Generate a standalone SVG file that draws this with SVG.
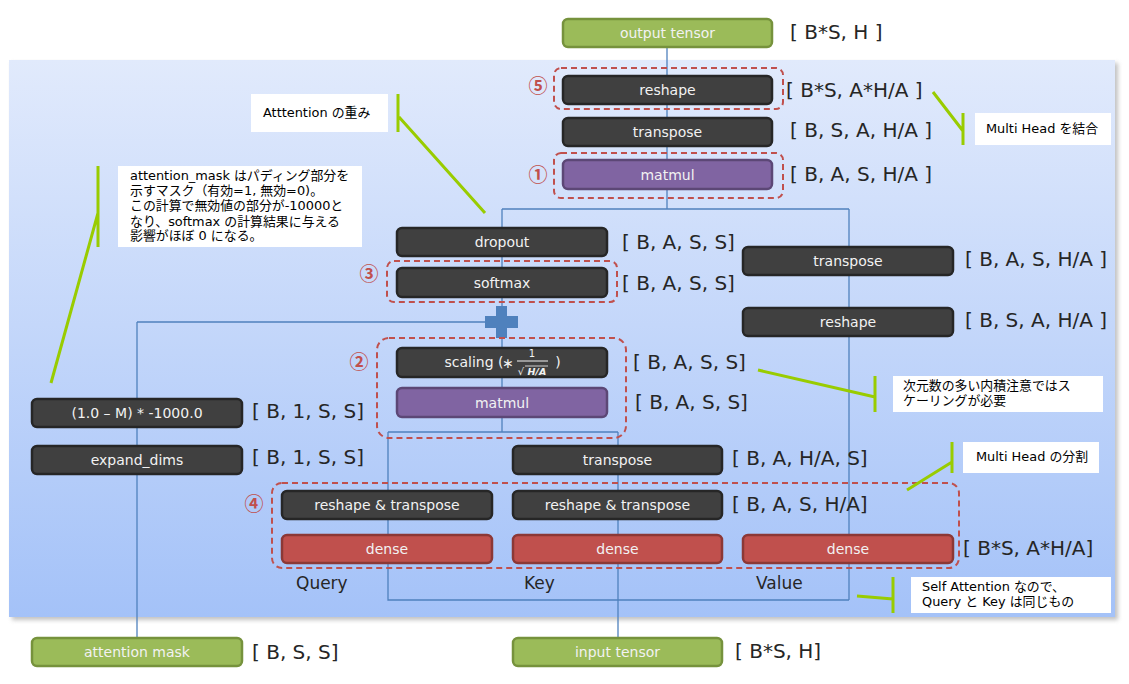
<svg xmlns="http://www.w3.org/2000/svg" width="1129" height="684" viewBox="0 0 1129 684">
<defs>
<linearGradient id="panelGrad" x1="0" y1="0" x2="0" y2="1">
<stop offset="0" stop-color="#e1eafc"/>
<stop offset="1" stop-color="#a4c2f8"/>
</linearGradient>
<filter id="blur" x="-5%" y="-5%" width="110%" height="110%"><feGaussianBlur stdDeviation="2"/></filter>
</defs>
<style>
.nd rect{stroke-width:2.5}
.dark rect{fill:#404040;stroke:#262626}
.purple rect{fill:#8064a2;stroke:#5c4776}
.red rect{fill:#c0504d;stroke:#8c3836}
.green rect{fill:#9bbb59;stroke:#76923c}
.nd text{font-family:"DejaVu Sans","Noto Sans",sans-serif;font-size:14px;fill:#f2f2f2;text-anchor:middle}
.dim{font-family:"DejaVu Sans","Noto Sans",sans-serif;font-size:20px;fill:#262626}
.qkv{font-family:"DejaVu Sans","Noto Sans",sans-serif;font-size:17px;fill:#262626}
.dash{fill:none;stroke:#c0504d;stroke-width:2;stroke-dasharray:6 4}
.num{font-family:"Noto Sans CJK JP","DejaVu Sans",sans-serif;font-size:19px;font-weight:bold;fill:#c0504d;text-anchor:middle}
.conn{fill:none;stroke:#4f81bd;stroke-width:1.3}
.gl{fill:none;stroke:#99cc00;stroke-width:3}
.cb{fill:#ffffff}
.ct{font-family:"DejaVu Sans","Noto Sans CJK JP",sans-serif;font-size:12.9px;fill:#000000}
</style>

<g id="panel">
<rect x="12" y="63" width="1106" height="557" fill="#9a9a9a" opacity="0.6" filter="url(#blur)"/>
<rect x="9" y="60" width="1106" height="557" fill="url(#panelGrad)"/>
</g>

<g id="connectors">
<path class="conn" d="M667 47 V209"/>
<path class="conn" d="M502 209 H849"/>
<path class="conn" d="M502 209 V432"/>
<path class="conn" d="M849 209 V600"/>
<path class="conn" d="M388 432 H618"/>
<path class="conn" d="M388 432 V600 H849"/>
<path class="conn" d="M618 432 V638"/>
<path class="conn" d="M137 322 H497"/>
<path class="conn" d="M137 322 V638"/>
<path id="plus" d="M496 306 H507 V316 H518 V328 H507 V338 H496 V328 H485 V316 H496 Z" fill="#4f81bd"/>
</g>

<g id="groups">
<rect class="dash" x="554" y="68" width="229" height="41" rx="7"/>
<rect class="dash" x="554" y="153" width="229" height="45" rx="7"/>
<rect class="dash" x="387" y="261" width="230" height="41" rx="7"/>
<rect class="dash" x="377" y="338" width="249" height="100" rx="12"/>
<rect class="dash" x="272" y="483" width="687" height="85" rx="10"/>
<text class="num" x="538" y="93">⑤</text>
<text class="num" x="538" y="182">①</text>
<text class="num" x="369" y="281">③</text>
<text class="num" x="359" y="369">②</text>
<text class="num" x="254" y="511">④</text>
</g>

<g id="output-tensor" class="nd green"><rect x="563" y="19" width="209" height="28" rx="5"/><text x="667.5" y="38">output tensor</text></g>
<g id="reshape-out" class="nd dark"><rect x="563" y="76" width="209" height="28" rx="5"/><text x="667.5" y="95">reshape</text></g>
<g id="transpose-out" class="nd dark"><rect x="563" y="118" width="209" height="28" rx="5"/><text x="667.5" y="137">transpose</text></g>
<g id="matmul-out" class="nd purple"><rect x="563" y="160" width="209" height="29" rx="5"/><text x="667.5" y="180">matmul</text></g>
<g id="dropout" class="nd dark"><rect x="397" y="228" width="210" height="28" rx="5"/><text x="502" y="247">dropout</text></g>
<g id="softmax" class="nd dark"><rect x="397" y="268" width="210" height="29" rx="5"/><text x="502" y="288">softmax</text></g>
<g id="transpose-v" class="nd dark"><rect x="743" y="247" width="210" height="28" rx="5"/><text x="848" y="266">transpose</text></g>
<g id="reshape-v" class="nd dark"><rect x="743" y="308" width="210" height="28" rx="5"/><text x="848" y="327">reshape</text></g>
<g id="scaling" class="nd dark"><rect x="397" y="348" width="210" height="29" rx="5"/>
<text x="474" y="367">scaling (</text>
<text x="508" y="368">∗</text>
<text x="532" y="357" style="font-size:10px">1</text>
<line x1="517" y1="361" x2="548" y2="361" stroke="#f2f2f2" stroke-width="1"/>
<text x="521" y="375" style="font-size:10px">√</text>
<line x1="525" y1="366" x2="548" y2="366" stroke="#f2f2f2" stroke-width="0.8"/>
<text x="537" y="375" style="font-size:9.5px;font-style:italic;font-weight:bold">H/A</text>
<text x="558" y="367">)</text>
</g>
<g id="matmul-qk" class="nd purple"><rect x="397" y="388" width="210" height="29" rx="5"/><text x="502" y="408">matmul</text></g>
<g id="mask-calc" class="nd dark"><rect x="32" y="399" width="210" height="28" rx="5"/><text x="137" y="418">(1.0 – M) * -1000.0</text></g>
<g id="expand-dims" class="nd dark"><rect x="32" y="446" width="210" height="28" rx="5"/><text x="137" y="465">expand_dims</text></g>
<g id="transpose-k" class="nd dark"><rect x="513" y="446" width="209" height="28" rx="5"/><text x="617.5" y="465">transpose</text></g>
<g id="rt-q" class="nd dark"><rect x="282" y="491" width="210" height="28" rx="5"/><text x="387" y="510">reshape &amp; transpose</text></g>
<g id="rt-k" class="nd dark"><rect x="513" y="491" width="209" height="28" rx="5"/><text x="617.5" y="510">reshape &amp; transpose</text></g>
<g id="dense-q" class="nd red"><rect x="282" y="535" width="210" height="28" rx="5"/><text x="387" y="554">dense</text></g>
<g id="dense-k" class="nd red"><rect x="513" y="535" width="209" height="28" rx="5"/><text x="617.5" y="554">dense</text></g>
<g id="dense-v" class="nd red"><rect x="743" y="535" width="210" height="28" rx="5"/><text x="848" y="554">dense</text></g>
<g id="attention-mask" class="nd green"><rect x="32" y="638" width="210" height="28" rx="5"/><text x="137" y="657">attention mask</text></g>
<g id="input-tensor" class="nd green"><rect x="513" y="638" width="209" height="28" rx="5"/><text x="617.5" y="657">input tensor</text></g>

<g id="dims">
<text class="dim" x="790" y="39">[ B*S, H ]</text>
<text class="dim" x="786" y="97">[ B*S, A*H/A ]</text>
<text class="dim" x="790" y="137">[ B, S, A, H/A ]</text>
<text class="dim" x="790" y="181">[ B, A, S, H/A ]</text>
<text class="dim" x="622" y="249">[ B, A, S, S]</text>
<text class="dim" x="622" y="290">[ B, A, S, S]</text>
<text class="dim" x="965" y="266">[ B, A, S, H/A ]</text>
<text class="dim" x="965" y="327">[ B, S, A, H/A ]</text>
<text class="dim" x="633" y="369">[ B, A, S, S]</text>
<text class="dim" x="635" y="409">[ B, A, S, S]</text>
<text class="dim" x="252" y="418">[ B, 1, S, S]</text>
<text class="dim" x="252" y="464">[ B, 1, S, S]</text>
<text class="dim" x="732" y="465">[ B, A, H/A, S]</text>
<text class="dim" x="732" y="511">[ B, A, S, H/A]</text>
<text class="dim" x="963" y="555">[ B*S, A*H/A]</text>
<text class="dim" x="252" y="659">[ B, S, S]</text>
<text class="dim" x="735" y="658">[ B*S, H]</text>
<text class="qkv" x="296" y="589">Query</text>
<text class="qkv" x="524" y="589">Key</text>
<text class="qkv" x="756" y="589">Value</text>
</g>

<g id="callout-weights">
<rect class="cb" x="251" y="94" width="137" height="38"/>
<text class="ct" x="263" y="117">Atttention の重み</text>
<path class="gl" d="M398 94 V132 M399 117 L485 213"/>
</g>
<g id="callout-mask">
<rect class="cb" x="118" y="166" width="244" height="81"/>
<text class="ct" x="130" y="180">attention_mask はパディング部分を</text>
<text class="ct" x="130" y="195">示すマスク（有効=1, 無効=0)。</text>
<text class="ct" x="130" y="210">この計算で無効値の部分が-10000と</text>
<text class="ct" x="130" y="226">なり、softmax の計算結果に与える</text>
<text class="ct" x="130" y="240">影響がほぼ 0 になる。</text>
<path class="gl" d="M98 166 V247 M98 213 L51 383"/>
</g>
<g id="callout-combine">
<rect class="cb" x="975" y="113" width="136" height="32"/>
<text class="ct" x="986" y="133">Multi Head を結合</text>
<path class="gl" d="M963 113 V145 M933 92 L963 131"/>
</g>
<g id="callout-scaling">
<rect class="cb" x="893" y="376" width="210" height="36"/>
<text class="ct" x="903" y="390">次元数の多い内積注意ではス</text>
<text class="ct" x="903" y="405">ケーリングが必要</text>
<path class="gl" d="M875 376 V412 M758 370 L875 397"/>
</g>
<g id="callout-split">
<rect class="cb" x="963" y="442" width="136" height="31"/>
<text class="ct" x="976" y="461">Multi Head の分割</text>
<path class="gl" d="M952 442 V473 M907 490 L952 462"/>
</g>
<g id="callout-self">
<rect class="cb" x="911" y="577" width="200" height="36"/>
<text class="ct" x="922" y="591">Self Attention なので、</text>
<text class="ct" x="922" y="606">Query と Key は同じもの</text>
<path class="gl" d="M893 577 V613 M857 596 L893 599"/>
</g>
</svg>
